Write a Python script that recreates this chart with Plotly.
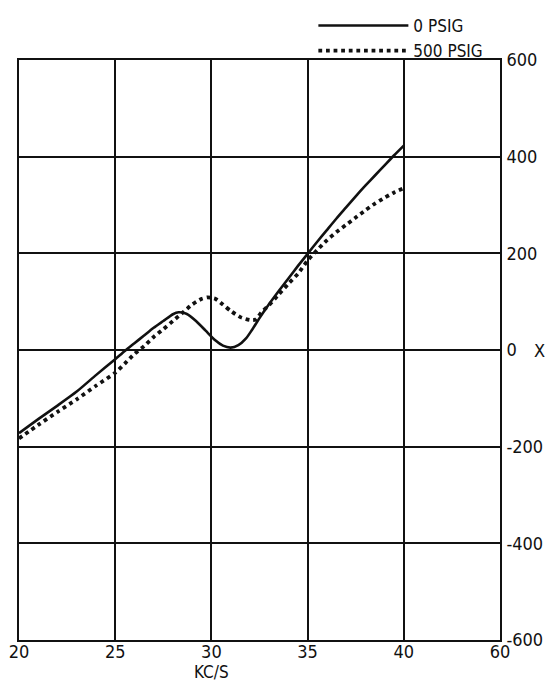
import plotly.graph_objects as go

# 0 PSIG (solid)
kc_0 = [20, 21, 22, 23, 24, 25, 25.5, 26, 26.5, 27, 27.5, 28, 28.3, 28.7, 29.2, 29.7, 30.2, 30.6, 31, 31.4, 31.8, 32.1, 32.5, 33, 33.5, 34, 34.5, 35, 35.5, 36, 36.5, 37, 37.5, 38, 38.5, 39, 39.5, 40]
x_0 = [-172, -143, -115, -86, -52, -19, -2, 14, 30, 46, 60, 74, 78, 75, 60, 40, 20, 9, 5, 10, 24, 41, 66, 95, 122, 148, 174, 199, 224, 248, 272, 295, 318, 340, 361, 382, 403, 423]

# 500 PSIG (dotted)
kc_500 = [20, 21, 22, 23, 24, 25, 25.5, 26, 26.5, 27, 27.5, 28, 28.5, 29, 29.5, 29.8, 30.2, 30.6, 31, 31.5, 32, 32.3, 32.6, 33, 33.5, 34, 34.5, 35, 35.5, 36, 36.5, 37, 37.5, 38, 38.5, 39, 39.5, 40]
x_500 = [-183, -155, -128, -102, -74, -47, -28, -8, 8, 27, 43, 60, 77, 94, 106, 109, 106, 94, 81, 68, 62, 63, 78, 93, 115, 137, 158, 185, 207, 227, 244, 259, 274, 289, 303, 315, 326, 335]

x_tickvals = [20, 25, 30, 35, 40, 45]
x_ticktext = ["20", "25", "30", "35", "40", "60"]
y_tickvals = [-600, -400, -200, 0, 200, 400, 600]
y_ticktext = ["-600", "-400", "-200", "0", "200", "400", "600"]

FONT = "DejaVu Sans Condensed, Liberation Sans Narrow, sans-serif"

fig = go.Figure()
fig.add_trace(go.Scatter(x=kc_0, y=x_0, mode="lines", name="0 PSIG",
                         line=dict(color="#111", width=2.6, shape="spline", smoothing=0.6)))
fig.add_trace(go.Scatter(x=kc_500, y=x_500, mode="lines", name="500 PSIG",
                         line=dict(color="#111", width=3.8, dash="3.8px,3.8px", shape="spline", smoothing=0.6)))

# page body has an 8px default margin, so the figure is sized to fit inside it
fig.update_layout(
    width=547, height=677,
    margin=dict(l=11, r=55, t=52, b=45, autoexpand=False),
    paper_bgcolor="white", plot_bgcolor="white",
    font=dict(family=FONT, size=17, color="#111"),
    showlegend=True,
    legend=dict(x=0.612, y=1.0, xref="paper", yref="container", xanchor="left", yanchor="top",
                bgcolor="rgba(0,0,0,0)", itemwidth=90, tracegroupgap=0,
                font=dict(family=FONT, size=17, color="#111")),
    xaxis=dict(range=[20, 45], tickvals=x_tickvals, ticktext=x_ticktext, automargin=False,
               showgrid=True, gridcolor="#111", gridwidth=1.6,
               showline=True, linecolor="#111", linewidth=1.6, mirror=True,
               zeroline=False, ticks="", ticklabelstandoff=-5, ticklabeloverflow="allow",
               tickfont=dict(size=18)),
    yaxis=dict(range=[-600, 600], tickvals=y_tickvals, ticktext=y_ticktext, side="right", automargin=False,
               showgrid=True, gridcolor="#111", gridwidth=1.6,
               showline=True, linecolor="#111", linewidth=1.6, mirror=True,
               zeroline=False, ticks="", ticklabelstandoff=1, ticklabeloverflow="allow",
               tickfont=dict(size=18)),
    annotations=[
        dict(text="KC/S", x=30, y=0, xref="x", yref="paper", yshift=-20, yanchor="top",
             showarrow=False, font=dict(family=FONT, size=17, color="#111")),
        dict(text="X", x=1, y=0, xref="paper", yref="y", xanchor="left", xshift=32,
             showarrow=False, font=dict(family=FONT, size=18, color="#111")),
    ],
)

fig.write_html("out.html")
